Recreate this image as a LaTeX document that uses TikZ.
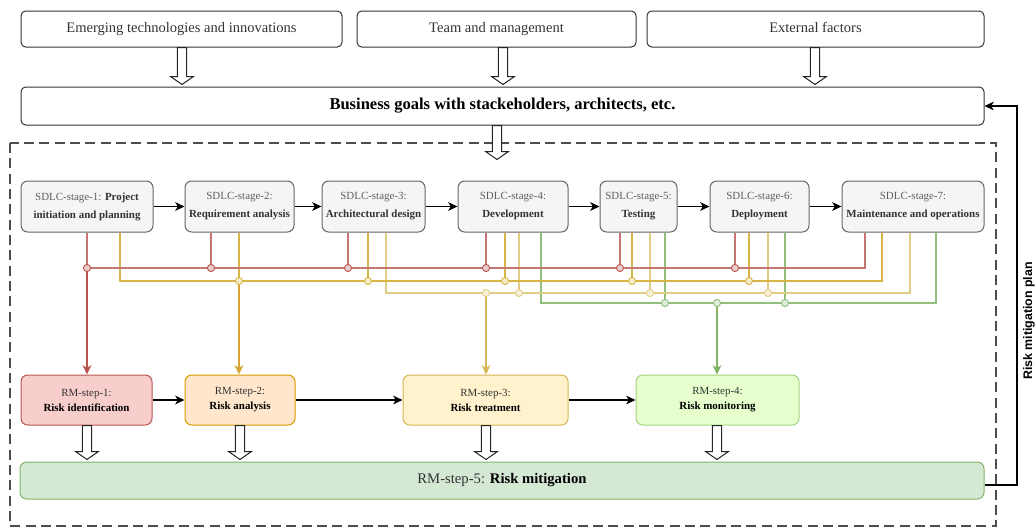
\documentclass[tikz,border=0pt]{standalone}
\usepackage{fontspec}
\setmainfont{Liberation Serif}
\newfontfamily\labelsans{Liberation Sans}
\usetikzlibrary{arrows.meta,calc}
\definecolor{ink}{HTML}{333333}
\definecolor{sdlcfill}{HTML}{F5F5F5}
\definecolor{sdlcdraw}{HTML}{666666}
\definecolor{sdlcgray}{HTML}{5E5E5E}
\definecolor{redd}{HTML}{B85450}
\definecolor{redthin}{HTML}{C47772}
\definecolor{redfill}{HTML}{F8CECC}
\definecolor{orad}{HTML}{D79B00}
\definecolor{orafill}{HTML}{FFE6CC}
\definecolor{yeld}{HTML}{D6B656}
\definecolor{yelfill}{HTML}{FFF2CC}
\definecolor{yelone}{HTML}{D9B548}
\definecolor{yeltwo}{HTML}{E2CD84}
\definecolor{yelarrow}{HTML}{D6A533}
\definecolor{grnd}{HTML}{82B366}
\definecolor{grnthin}{HTML}{93BF7C}
\definecolor{grnfill}{HTML}{D5E8D4}
\definecolor{limefill}{HTML}{E6FFCC}
\definecolor{limedraw}{HTML}{A3D47F}
\definecolor{dashc}{HTML}{4D4D4D}
\begin{document}
\begin{tikzpicture}[x=0.75pt,y=-0.75pt,
  spanbox/.style args={#1/#2/#3/#4}{minimum width={(#3-#1)*0.75pt}, minimum height={(#4-#2)*0.75pt}, at={({(#1+#3)/2},{(#2+#4)/2})}},
  topbox/.style={draw=ink, fill=white, rounded corners=3.5pt, inner sep=0pt, line width=0.75pt, text=ink, font=\fontsize{10.9}{13}\selectfont, text height=7.4pt, text depth=2.4pt},
  goalbox/.style={topbox, text=black, font=\fontsize{12.4}{15}\selectfont\bfseries, text height=8.4pt, text depth=2.8pt},
  sdlcbox/.style={draw=sdlcdraw, fill=sdlcfill, rounded corners=5pt, inner sep=0pt, line width=0.75pt, align=center, text=ink, font=\fontsize{8.2}{13.5}\selectfont},
  rmbox/.style={rounded corners=5pt, inner sep=0pt, line width=0.75pt, align=center, text=ink, font=\fontsize{8.2}{11.3}\selectfont},
  flow/.style={draw=black, line width=0.9pt, -{Stealth[length=7pt,width=6.5pt,inset=2pt]}},
  hollow/.style={draw=black!85, fill=white, line width=0.75pt, to path={
    let \p1=(\tikztostart), \p2=(\tikztotarget) in
    (\x1-3.4pt,\y1) -- (\x1-3.4pt,\y2+7.5pt) -- (\x1-8.6pt,\y2+7.5pt) -- (\x1,\y2+1.5pt)
    -- (\x1+8.6pt,\y2+7.5pt) -- (\x1+3.4pt,\y2+7.5pt) -- (\x1+3.4pt,\y1) -- cycle}},
  redl/.style={draw=redthin, line width=0.8pt},
  yelonel/.style={draw=yelone, line width=1.1pt},
  yeltwol/.style={draw=yeltwo, line width=0.8pt},
  grnl/.style={draw=grnthin, line width=0.8pt},
  droparrow/.style={draw=#1, line width=1.1pt, -{Stealth[length=7pt,width=6.5pt,inset=2pt]}},
  jdot/.style={circle, draw=#1, fill=#1!30!white, line width=0.7pt, minimum size=5.4pt, inner sep=0pt},
]
\useasboundingbox (0,0) rectangle (1035,529);

% dashed frame
\draw[dashc, line width=0.8pt, dash pattern=on 7.5pt off 4pt] (10,143) rectangle (996,526);

% top boxes
\node[topbox, spanbox=21/11/342/47] (t1) {Emerging technologies and innovations};
\node[topbox, spanbox=357/11/636/47] (t2) {Team and management};
\node[topbox, spanbox=647/11/984/47] (t3) {External factors};
\node[goalbox, spanbox=21/87/984/125] (bg) {Business goals with stackeholders, architects, etc.};

% SDLC stages
\node[sdlcbox, spanbox=21/181/153/232] (s1) {{\color{sdlcgray}SDLC-stage-1:} \textbf{Project}\\\textbf{initiation and planning}};
\node[sdlcbox, spanbox=185/181/294/232] (s2) {{\color{sdlcgray}SDLC-stage-2:}\\\textbf{Requirement analysis}};
\node[sdlcbox, spanbox=322/181/425/232] (s3) {{\color{sdlcgray}SDLC-stage-3:}\\\textbf{Architectural design}};
\node[sdlcbox, spanbox=458/181/568/232] (s4) {{\color{sdlcgray}SDLC-stage-4:}\\\textbf{Development}};
\node[sdlcbox, spanbox=600/181/677/232] (s5) {{\color{sdlcgray}SDLC-stage-5:}\\\textbf{Testing}};
\node[sdlcbox, spanbox=710/181/809/232] (s6) {{\color{sdlcgray}SDLC-stage-6:}\\\textbf{Deployment}};
\node[sdlcbox, spanbox=842/181/984/232] (s7) {{\color{sdlcgray}SDLC-stage-7:}\\\textbf{Maintenance and operations}};

% RM steps
\node[rmbox, draw=redd, fill=redfill, spanbox=21/375/152/425] (rm1) {RM-step-1:\\\textbf{\color{black}Risk identification}};
\node[rmbox, draw=orad, fill=orafill, spanbox=185/375/295/425] (rm2) {RM-step-2:\\\textbf{\color{black}Risk analysis}};
\node[rmbox, draw=yeld, fill=yelfill, spanbox=403/375/568/425] (rm3) {RM-step-3:\\\textbf{\color{black}Risk treatment}};
\node[rmbox, draw=limedraw, fill=limefill, spanbox=636/375/799/425] (rm4) {RM-step-4:\\\textbf{\color{black}Risk monitoring}};
\node[rmbox, draw=grnd, fill=grnfill, spanbox=20/462/984/499, font=\fontsize{11}{13}\selectfont, text height=7.5pt, text depth=2.4pt] (rm5) {RM-step-5: \textbf{\color{black}Risk mitigation}};

% flow arrows
\draw[flow] (s1.east) -- (s2.west);
\draw[flow] (s2.east) -- (s3.west);
\draw[flow] (s3.east) -- (s4.west);
\draw[flow] (s4.east) -- (s5.west);
\draw[flow] (s5.east) -- (s6.west);
\draw[flow] (s6.east) -- (s7.west);
\draw[flow] (rm1.east) -- (rm2.west);
\draw[flow] (rm2.east) -- (rm3.west);
\draw[flow] (rm3.east) -- (rm4.west);

% hollow arrows
\coordinate (ha1) at (182,0);
\coordinate (ha2) at (503,0);
\coordinate (ha3) at (815,0);
\coordinate (hb) at (497,0);
\coordinate (hbend) at (497,161.5);
\draw[hollow] (t1.south -| ha1) to (bg.north -| ha1);
\draw[hollow] (t2.south -| ha2) to (bg.north -| ha2);
\draw[hollow] (t3.south -| ha3) to (bg.north -| ha3);
\draw[hollow] (bg.south -| hb) to (hbend);
\coordinate (hr1) at (87,0);
\coordinate (hr2) at (240,0);
\coordinate (hr3) at (486,0);
\coordinate (hr4) at (717,0);
\draw[hollow] (rm1.south -| hr1) to (rm5.north -| hr1);
\draw[hollow] (rm2.south -| hr2) to (rm5.north -| hr2);
\draw[hollow] (rm3.south -| hr3) to (rm5.north -| hr3);
\draw[hollow] (rm4.south -| hr4) to (rm5.north -| hr4);

% bus coordinates
\coordinate (r1) at (87,268);  \coordinate (r2) at (211,268); \coordinate (r3) at (348,268);
\coordinate (r4) at (486,268); \coordinate (r5) at (620,268); \coordinate (r6) at (735,268);
\coordinate (r7) at (865,268);
\coordinate (a1) at (120,281); \coordinate (a2) at (239,281); \coordinate (a3) at (368,281);
\coordinate (a4) at (505,281); \coordinate (a5) at (632,281); \coordinate (a6) at (749,281);
\coordinate (a7) at (882,281);
\coordinate (b3) at (386,293); \coordinate (bx) at (486,293); \coordinate (b4) at (519,293);
\coordinate (b5) at (650,293); \coordinate (b6) at (768,293); \coordinate (b7) at (910,293);
\coordinate (g4) at (541,303); \coordinate (g5) at (665,303); \coordinate (gx) at (717,303);
\coordinate (g6) at (785,303); \coordinate (g7) at (936,303);

% green bus
\draw[grnl] (s4.south -| g4) -- (g4) -- (g7) -- (s7.south -| g7);
\draw[grnl] (s5.south -| g5) -- (g5);
\draw[grnl] (s6.south -| g6) -- (g6);
% yellow bus 2
\draw[yeltwol] (s3.south -| b3) -- (b3) -- (b7) -- (s7.south -| b7);
\draw[yeltwol] (s4.south -| b4) -- (b4);
\draw[yeltwol] (s5.south -| b5) -- (b5);
\draw[yeltwol] (s6.south -| b6) -- (b6);
% yellow bus 1
\draw[yelonel] (s1.south -| a1) -- (a1) -- (a7) -- (s7.south -| a7);
\draw[yelonel] (s2.south -| a2) -- (a2);
\draw[yelonel] (s3.south -| a3) -- (a3);
\draw[yelonel] (s4.south -| a4) -- (a4);
\draw[yelonel] (s5.south -| a5) -- (a5);
\draw[yelonel] (s6.south -| a6) -- (a6);
% red bus
\draw[redl] (r1) -- (r7) -- (s7.south -| r7);
\draw[redl] (s1.south -| r1) -- (r1);
\draw[redl] (s2.south -| r2) -- (r2);
\draw[redl] (s3.south -| r3) -- (r3);
\draw[redl] (s4.south -| r4) -- (r4);
\draw[redl] (s5.south -| r5) -- (r5);
\draw[redl] (s6.south -| r6) -- (r6);

% drops to RM steps
\draw[droparrow=redd, line width=1.3pt] (r1) -- (rm1.north -| r1);
\draw[droparrow=yelarrow] (a2) -- (rm2.north -| a2);
\draw[droparrow=yeld] (bx) -- (rm3.north -| bx);
\draw[droparrow=grnd] (gx) -- (rm4.north -| gx);

% junction dots
\node[jdot=redd] (cr1) at (r1) {};
\node[jdot=redd] (cr2) at (r2) {};
\node[jdot=redd] (cr3) at (r3) {};
\node[jdot=redd] (cr4) at (r4) {};
\node[jdot=redd] (cr5) at (r5) {};
\node[jdot=redd] (cr6) at (r6) {};
\node[jdot=yelone] (ca2) at (a2) {};
\node[jdot=yelone] (ca3) at (a3) {};
\node[jdot=yelone] (ca4) at (a4) {};
\node[jdot=yelone] (ca5) at (a5) {};
\node[jdot=yelone] (ca6) at (a6) {};
\node[jdot=yeltwo] (cbx) at (bx) {};
\node[jdot=yeltwo] (cb4) at (b4) {};
\node[jdot=yeltwo] (cb5) at (b5) {};
\node[jdot=yeltwo] (cb6) at (b6) {};
\node[jdot=grnthin] (cg5) at (g5) {};
\node[jdot=grnthin] (cgx) at (gx) {};
\node[jdot=grnthin] (cg6) at (g6) {};

% feedback loop
\coordinate (fb1) at (1017,485);
\coordinate (fb2) at (1017,106);
\draw[flow] (rm5.east |- fb1) -- (fb1) -- (fb2) -- (bg.east |- fb2);
\node[rotate=90, inner sep=0pt, font=\labelsans\bfseries\fontsize{9.3}{11}\selectfont] (fblabel) at (1029,321) {Risk mitigation plan};
\end{tikzpicture}
\end{document}
